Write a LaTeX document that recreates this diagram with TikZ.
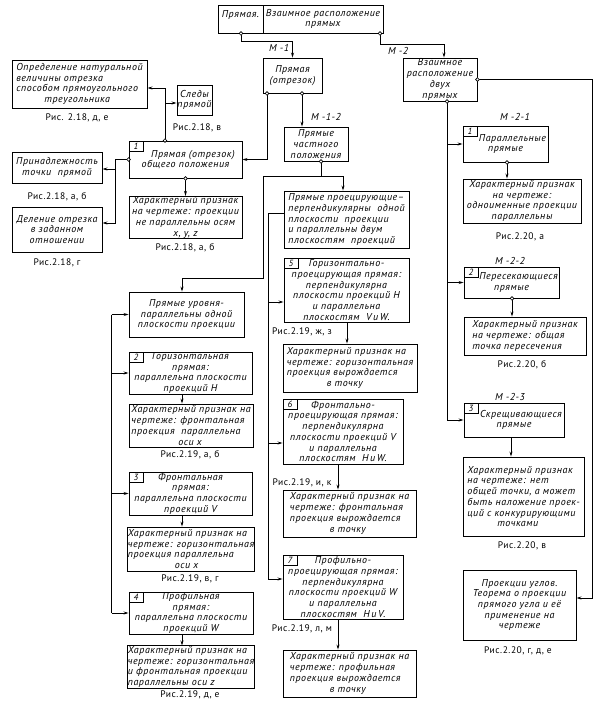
\documentclass[tikz,border=0pt]{standalone}
\usepackage{fontspec}
\setmainfont{PT Sans}[LetterSpace=5.5]
\usetikzlibrary{arrows.meta}
\newcommand\bx[7]{\node[box,#6,minimum width={(#4-#2)*1pt},minimum height={(#5-#3)*1pt}] (#1) at ({(#2+#4)/2},{(#3+#5)/2}) {#7};}
\newcommand\nc[3]{\node[numc] (#1) at (#2.north west) {#3};}
\newcommand\dt[1]{\draw[line width=0.7pt,fill=white] #1 circle (1.8pt);}
\begin{document}
\begin{tikzpicture}[x=1pt,y=-1pt,
  box/.style={draw,line width=0.9pt,inner sep=0.5pt,align=center,font=\itshape\fontsize{10}{10.7}\selectfont},
  numc/.style={draw,line width=0.8pt,anchor=north west,minimum width=14pt,minimum height=10pt,inner sep=0pt,font=\itshape\fontsize{9}{9}\selectfont},
  captxt/.style={inner sep=0pt,font=\fontsize{9.5}{10}\selectfont},
  lbl/.style={inner sep=0pt,font=\itshape\fontsize{10}{10}\selectfont},
  ln/.style={line width=0.9pt},
  arr/.style={line width=0.9pt,-{Stealth[length=5pt,width=3pt]}}]
\useasboundingbox (0,0) rectangle (603,715);
% boxes
\bx{topL}{218}{5}{263}{33}{}{Прямая.\\\mbox{}}
\bx{topR}{263}{5}{383}{33}{}{Взаимное расположение\\прямых}
\bx{pr}{263}{58}{322}{93}{}{Прямая\\(отрезок)}
\bx{vz}{403}{58}{477}{101}{}{Взаимное\\расположение\\двух\\прямых}
\bx{def}{12}{60}{147}{108}{align=left}{Определение натуральной\\величины отрезка\\способом прямоугольного\\\hspace*{28pt}треугольника}
\bx{sl}{178}{85}{211}{115}{}{Следы\\прямой}
\bx{pn}{12}{152}{102}{183}{}{Принадлежность\\точки\ \ прямой}
\bx{del}{12}{207}{102}{252}{}{Деление отрезка\\в заданном\\отношении}
\bx{b1}{129}{141}{242}{178}{}{\hspace*{15pt}Прямая (отрезок)\\общего положения}
\bx{ch1}{129}{197}{242}{238}{}{Характерный признак\\на чертеже: проекции\\не параллельны осям\\x, y, z}
\bx{chp}{284}{127}{348}{161}{}{Прямые\\частного\\положения}
\bx{pp}{284}{191}{409}{248}{align=left}{Прямые проецирующие–\\перпендикулярны\ \ одной\\плоскости\ \ проекции\\и параллельны двум\\плоскостям\ \ проекций}
\bx{b5}{284}{258}{409}{322}{}{Горизонтально-\\проецирующая прямая:\\перпендикулярна\\плоскости проекций H\\и параллельна\\плоскостям\ \ V\,и\,W.}
\bx{c5}{283}{344}{417}{392}{align=left}{Характерный признак на\\чертеже: горизонтальная\\проекция вырождается\\\hspace*{40pt}в точку}
\bx{b6}{283}{399}{403}{464}{}{Фронтально-\\проецирующая прямая:\\перпендикулярна\\плоскости проекций V\\и параллельна\\плоскостям\ \ H\,и\,W.}
\bx{c6}{283}{490}{416}{537}{align=left}{Характерный признак на\\чертеже: фронтальная\\проекция вырождается\\\hspace*{40pt}в точку}
\bx{b7}{283}{555}{403}{619}{}{Профильно-\\проецирующая прямая:\\перпендикулярна\\плоскости проекций W\\и параллельна\\плоскостям\ \ H\,и\,V.}
\bx{c7}{283}{650}{416}{697}{align=left}{Характерный признак на\\чертеже: профильная\\проекция вырождается\\\hspace*{40pt}в точку}
\bx{ur}{129}{292}{244}{337}{}{Прямые уровня-\\параллельны одной\\плоскости проекции}
\bx{b2}{129}{353}{252}{393}{}{Горизонтальная\\прямая:\\параллельна плоскости\\проекций H}
\bx{c2}{129}{404}{253}{447}{align=left}{Характерный признак на\\чертеже: фронтальная\\проекция\ \ параллельна\\\hspace*{47pt}оси x}
\bx{b3}{129}{472}{252}{515}{}{Фронтальная\\прямая:\\параллельна плоскости\\проекций V}
\bx{c3}{129}{527}{253}{571}{align=left}{Характерный признак на\\чертеже: горизонтальная\\проекция параллельна\\\hspace*{47pt}оси x}
\bx{b4}{129}{594}{253}{632}{}{Профильная\\прямая:\\параллельна плоскости\\проекций W}
\bx{c4}{129}{647}{253}{687}{align=left}{Характерный признак на\\чертеже: горизонтальная\\и фронтальная проекции\\параллельны оси z}
\bx{m21}{463}{126}{548}{162}{}{\hspace*{14pt}Параллельные\\прямые}
\bx{ch21}{463}{179}{581}{223}{}{Характерный признак\\на чертеже:\\одноименные проекции\\параллельны}
\bx{m22}{464}{267}{559}{298}{}{\hspace*{14pt}Пересекающиеся\\прямые}
\bx{ch22}{464}{317}{586}{355}{align=left}{Характерный признак\\на чертеже: общая\\точка пересечения}
\bx{m23}{464}{403}{564}{437}{}{\hspace*{14pt}Скрещивающиеся\\прямые}
\bx{ch23}{463}{457}{584}{536}{align=left}{Характерный признак\\на чертеже: нет\\общей точки, а может\\быть наложение проек-\\ций с конкурирующими\\\hspace*{30pt}точками}
\bx{ang}{463}{570}{576}{640}{}{Проекции углов.\\Теорема о проекции\\прямого угла и её\\применение на\\чертеже}
% number cells
\nc{n1}{b1}{1}
\nc{n2}{b2}{2}
\nc{n3}{b3}{3}
\nc{n4}{b4}{4}
\nc{n5}{b5}{5}
\nc{n6}{b6}{6}
\nc{n7}{b7}{7}
\nc{n21}{m21}{1}
\nc{n22}{m22}{2}
\nc{n23}{m23}{3}
% captions
\node[captxt] (k1) at (77,118) {Рис. 2.18, д, е};
\node[captxt] (k2) at (197,128) {Рис.2.18, в};
\node[captxt] (k3) at (57,197) {Рис.2.18, а, б};
\node[captxt] (k4) at (57,263) {Рис.2.18, г};
\node[captxt] (k5) at (185,248) {Рис.2.18, а, б};
\node[captxt] (k6) at (302,332) {Рис.2.19, ж, з};
\node[captxt] (k7) at (302,483) {Рис.2.19, и, к};
\node[captxt] (k8) at (302,629) {Рис.2.19, л, м};
\node[captxt] (k9) at (190,455) {Рис.2.19, а, б};
\node[captxt] (k10) at (190,579) {Рис.2.19, в, г};
\node[captxt] (k11) at (190,695) {Рис.2.19, д, е};
\node[captxt] (k12) at (520,237) {Рис.2.20, а};
\node[captxt] (k13) at (522,365) {Рис.2.20, б};
\node[captxt] (k14) at (522,546) {Рис.2.20, в};
\node[captxt] (k15) at (518,651) {Рис.2.20, г, д, е};
% labels
\node[lbl] (l1) at (279,48) {М -1};
\node[lbl] (l2) at (398,51) {М -2};
\node[lbl] (l3) at (326,117) {М -1-2};
\node[lbl] (l4) at (515,117) {М -2-1};
\node[lbl] (l5) at (510,261) {М -2-2};
\node[lbl] (l6) at (510,397) {М -2-3};
% helper coordinates
\coordinate (j1) at (241,41);
\coordinate (j2) at (380,44);
\coordinate (j2b) at (444,44);
\coordinate (j3) at (267,159);
\coordinate (j4) at (302,110);
\coordinate (j5) at (321,176);
\coordinate (j5r) at (343,176);
\coordinate (j5l) at (263,176);
\coordinate (j5d) at (263,278);
\coordinate (j5e) at (182,278);
\coordinate (j6) at (268,213);
\coordinate (j6x) at (268,302);
\coordinate (j6y) at (268,443);
\coordinate (j6b) at (268,579);
\coordinate (x182) at (182,0);
\coordinate (x347) at (347,0);
\coordinate (x338) at (338,0);
\coordinate (j8) at (165,88);
\coordinate (j8b) at (165,103);
\coordinate (j9a) at (115,169);
\coordinate (j9b) at (115,223);
\coordinate (j10) at (447,0);
\coordinate (j11) at (592,598);
\coordinate (x507) at (507,0);
\coordinate (x512) at (512,0);
\coordinate (x511) at (511,0);
\path (ur.west) ++(-17,0) coordinate (j7a);
% connectors
\draw[arr] (topL.south -| j1) -- (j1) -| (pr.north);
\draw[arr] (topR.south -| j2) -- (j2) -- (j2b) -- (vz.north -| j2b);
\draw[arr] (pr.south -| j3) |- (b1.east);
\draw[arr] (pr.south -| j4) -- (chp.north -| j4);
\draw[ln] (chp.south -| j5) -- (j5);
\draw[arr] (j5l) -- (j5r) -- (pp.north -| j5r);
\draw[arr] (j5l) -- (j5d) -- (j5e) -- (ur.north -| j5e);
\draw[ln] (pp.west |- j6) -- (j6) -- (j6b);
\draw[arr] (j6x) -- (b5.west |- j6x);
\draw[arr] (j6y) -- (b6.west |- j6y);
\draw[arr] (j6b) -- (b7.west |- j6b);
\draw[arr] (j7a) -- (ur.west);
\draw[ln] (j7a) -- (j7a |- b4.west);
\draw[arr] (j7a |- b2.west) -- (b2.west);
\draw[arr] (j7a |- b3.west) -- (b3.west);
\draw[arr] (j7a |- b4.west) -- (b4.west);
\draw[arr] (b2.south -| x182) -- (c2.north -| x182);
\draw[arr] (b3.south -| x182) -- (c3.north -| x182);
\draw[arr] (b4.south -| x182) -- (c4.north -| x182);
\draw[arr] (b5.south -| x347) -- (c5.north -| x347);
\draw[arr] (b6.south -| x338) -- (c6.north -| x338);
\draw[arr] (b7.south -| x338) -- (c7.north -| x338);
\draw[arr] (b1.north -| j8) -- (j8) -- (def.east |- j8);
\draw[arr] (j8b) -- (sl.west |- j8b);
\draw[arr] (b1.west) -| (j9b) -- (del.east |- j9b);
\draw[arr] (j9a) -- (pn.east |- j9a);
\draw[arr] (b1.south) -- (ch1.north);
\draw[ln] (vz.south -| j10) -- (j10 |- m23.west);
\draw[arr] (j10 |- m21.west) -- (m21.west);
\draw[arr] (j10 |- m22.west) -- (m22.west);
\draw[arr] (j10 |- m23.west) -- (m23.west);
\draw[arr] (vz.east) -| (j11) -- (ang.east |- j11);
\draw[arr] (m21.south -| x507) -- (ch21.north -| x507);
\draw[arr] (m22.south -| x512) -- (ch22.north -| x512);
\draw[arr] (m23.south -| x511) -- (ch23.north -| x511);
% junction circles
\dt{(topL.south -| j1)}
\dt{(topR.south -| j2)}
\dt{(pr.south -| j3)}
\dt{(pr.south -| j4)}
\dt{(chp.south -| j5)}
\dt{(b1.north -| j8)}
\dt{(b1.west)}
\dt{(b1.south)}
\dt{(vz.south -| j10)}
\dt{(vz.east)}
\dt{(m21.south -| x507)}
\dt{(m22.south -| x512)}
\end{tikzpicture}
\end{document}
